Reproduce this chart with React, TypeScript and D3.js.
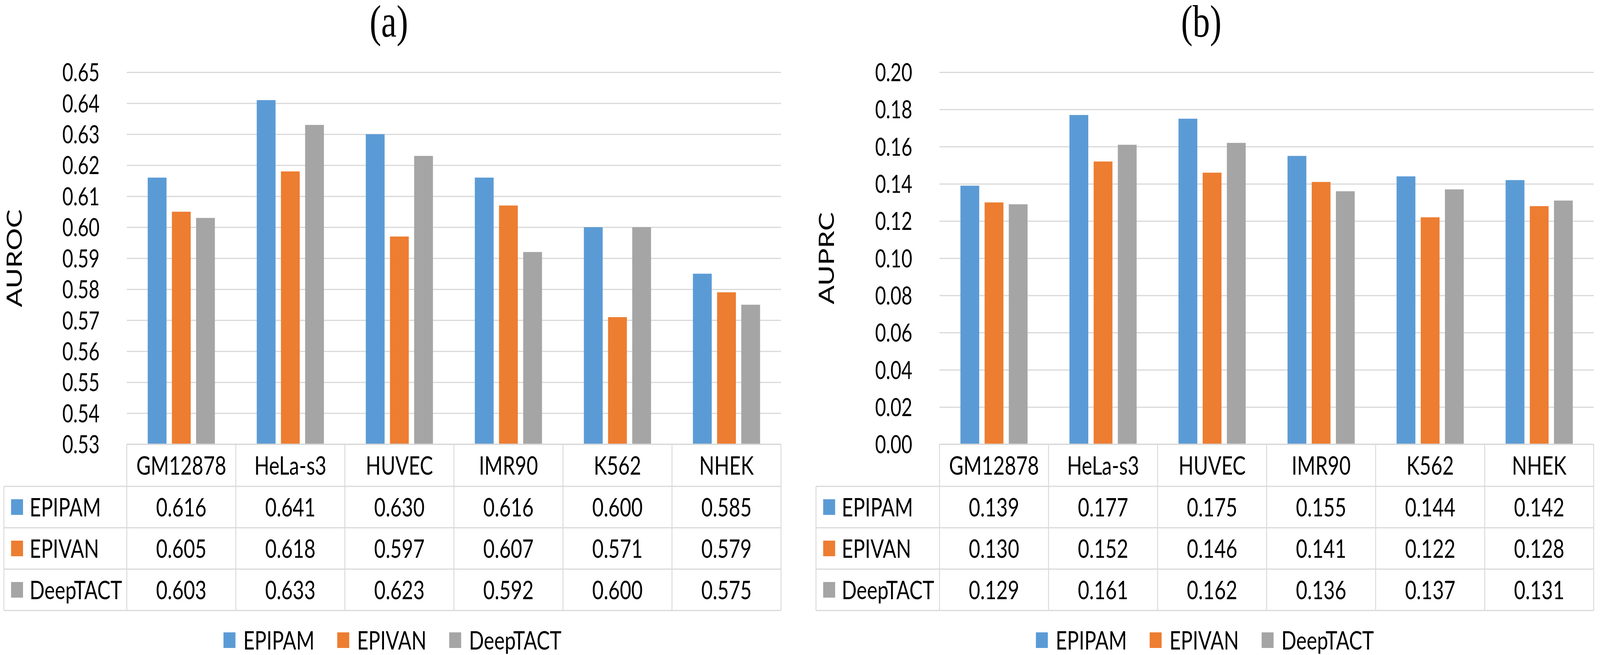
import React, { useEffect, useRef } from "react";
import * as d3 from "d3";

// cell lines and methods
const categories = ["GM12878", "HeLa-s3", "HUVEC", "IMR90", "K562", "NHEK"];
const seriesNames = ["EPIPAM", "EPIVAN", "DeepTACT"];
const seriesColors = ["#5B9BD5", "#ED7D31", "#A5A5A5"];

// panel (a) AUROC
const aurocEPIPAM = [0.616, 0.641, 0.63, 0.616, 0.6, 0.585];
const aurocEPIVAN = [0.605, 0.618, 0.597, 0.607, 0.571, 0.579];
const aurocDeepTACT = [0.603, 0.633, 0.623, 0.592, 0.6, 0.575];
const aurocTicks = [0.53, 0.54, 0.55, 0.56, 0.57, 0.58, 0.59, 0.6, 0.61, 0.62, 0.63, 0.64, 0.65];

// panel (b) AUPRC
const auprcEPIPAM = [0.139, 0.177, 0.175, 0.155, 0.144, 0.142];
const auprcEPIVAN = [0.13, 0.152, 0.146, 0.141, 0.122, 0.128];
const auprcDeepTACT = [0.129, 0.161, 0.162, 0.136, 0.137, 0.131];
const auprcTicks = [0, 0.02, 0.04, 0.06, 0.08, 0.1, 0.12, 0.14, 0.16, 0.18, 0.2];

const W = 5351;
const H = 1678;
const FONT = "Lato, 'Open Sans', sans-serif";
const LINE = "#D9D9D9";

interface Panel {
  title: string;
  yLabel: string;
  series: number[][];
  ticks: number[];
  tableLeft: number;
  plotLeft: number;
  plotRight: number;
}

const panels: Panel[] = [
  {
    title: "(a)",
    yLabel: "AUROC",
    series: [aurocEPIPAM, aurocEPIVAN, aurocDeepTACT],
    ticks: aurocTicks,
    tableLeft: 13,
    plotLeft: 424,
    plotRight: 2612,
  },
  {
    title: "(b)",
    yLabel: "AUPRC",
    series: [auprcEPIPAM, auprcEPIVAN, auprcDeepTACT],
    ticks: auprcTicks,
    tableLeft: 2729,
    plotLeft: 3142,
    plotRight: 5330,
  },
];

const plotTop = 185;
const plotBottom = 1138;
const headerH = 108;
const rowH = 106;
const legendY = 1640;

const App: React.FC = () => {
  const ref = useRef<SVGSVGElement>(null);

  useEffect(() => {
    if (!ref.current) return;
    document.body.style.margin = "0";
    const svg = d3.select(ref.current);
    svg.selectAll("*").remove();
    svg.append("rect").attr("width", W).attr("height", H).attr("fill", "#fff");

    panels.forEach((p) => {
      const g = svg.append("g");
      const x0 = d3.scaleBand().domain(categories).range([p.plotLeft, p.plotRight]);
      const bw = x0.bandwidth();
      const inset = bw * 0.192;
      const x1 = d3
        .scaleBand()
        .domain(seriesNames)
        .range([inset, bw - inset])
        .paddingInner(0.222);
      const y = d3
        .scaleLinear()
        .domain([p.ticks[0], p.ticks[p.ticks.length - 1]])
        .range([plotBottom, plotTop]);

      // gridlines
      const grid = g
        .append("g")
        .attr("transform", `translate(${p.plotLeft},0)`)
        .call(
          d3
            .axisLeft(y)
            .tickValues(p.ticks)
            .tickSize(-(p.plotRight - p.plotLeft))
            .tickFormat(() => "")
        );
      grid.select(".domain").remove();
      grid.selectAll(".tick line").attr("stroke", LINE).attr("stroke-width", 3);

      // tick labels
      const axis = g
        .append("g")
        .attr("transform", `translate(${p.plotLeft - 91},0)`)
        .call(
          d3
            .axisLeft(y)
            .tickValues(p.ticks)
            .tickSize(0)
            .tickPadding(0)
            .tickFormat((d) => d3.format(".2f")(d as number))
        );
      axis.select(".domain").remove();
      axis
        .selectAll(".tick text")
        .attr("font-family", FONT)
        .attr("font-size", 63)
        .attr("fill", "#000")
        .attr("dy", "0.36em");

      // y title
      g.append("text")
        .attr("transform", `translate(${p.tableLeft + 34},${(plotTop + plotBottom) / 2}) rotate(-90)`)
        .attr("text-anchor", "middle")
        .attr("dy", "0.36em")
        .attr("font-family", FONT)
        .attr("font-size", 72)
        .text(p.yLabel);

      // panel title
      g.append("text")
        .attr("x", (p.tableLeft + p.plotRight) / 2 - 12)
        .attr("y", 94)
        .attr("text-anchor", "middle")
        .attr("font-family", "'Liberation Serif', 'Times New Roman', serif")
        .attr("font-size", 116)
        .text(p.title);

      // bars
      p.series.forEach((vals, si) => {
        g.append("g")
          .selectAll("rect")
          .data(vals)
          .enter()
          .append("rect")
          .attr("x", (_, i) => (x0(categories[i]) ?? 0) + (x1(seriesNames[si]) ?? 0))
          .attr("y", (d) => y(d))
          .attr("width", x1.bandwidth())
          .attr("height", (d) => plotBottom - y(d))
          .attr("fill", seriesColors[si]);
      });

      // data table
      const t = g.append("g");
      const tableBottom = plotBottom + headerH + rowH * seriesNames.length;
      const hline = (yy: number, xa: number) =>
        t.append("line").attr("x1", xa).attr("x2", p.plotRight).attr("y1", yy).attr("y2", yy)
          .attr("stroke", LINE).attr("stroke-width", 3);
      const vline = (xx: number, ya: number) =>
        t.append("line").attr("x1", xx).attr("x2", xx).attr("y1", ya).attr("y2", tableBottom)
          .attr("stroke", LINE).attr("stroke-width", 3);

      hline(plotBottom, p.plotLeft);
      seriesNames.forEach((_, r) => hline(plotBottom + headerH + rowH * r, p.tableLeft));
      hline(tableBottom, p.tableLeft);
      vline(p.tableLeft, plotBottom + headerH);
      categories.forEach((c) => vline(x0(c) ?? 0, plotBottom));
      vline(p.plotRight, plotBottom);

      categories.forEach((c) => {
        t.append("text")
          .attr("x", (x0(c) ?? 0) + bw / 2)
          .attr("y", plotBottom + headerH / 2)
          .attr("dy", "0.36em")
          .attr("text-anchor", "middle")
          .attr("font-family", FONT)
          .attr("font-size", 66)
          .text(c);
      });

      seriesNames.forEach((s, r) => {
        const cy = plotBottom + headerH + rowH * r + rowH / 2;
        t.append("rect")
          .attr("x", p.tableLeft + 24)
          .attr("y", cy - 20)
          .attr("width", 40)
          .attr("height", 40)
          .attr("fill", seriesColors[r]);
        t.append("text")
          .attr("x", p.tableLeft + 86)
          .attr("y", cy)
          .attr("dy", "0.36em")
          .attr("font-family", FONT)
          .attr("font-size", 66)
          .text(s);
        p.series[r].forEach((v, i) => {
          t.append("text")
            .attr("x", (x0(categories[i]) ?? 0) + bw / 2)
            .attr("y", cy)
            .attr("dy", "0.36em")
            .attr("text-anchor", "middle")
            .attr("font-family", FONT)
            .attr("font-size", 66)
            .text(d3.format(".3f")(v));
        });
      });

      // bottom legend
      const lg = g.append("g");
      let cursor = 0;
      seriesNames.forEach((s, i) => {
        const item = lg.append("g").attr("transform", `translate(${cursor},0)`);
        item.append("rect").attr("x", 0).attr("y", legendY - 20).attr("width", 40).attr("height", 40)
          .attr("fill", seriesColors[i]);
        const txt = item.append("text")
          .attr("x", 66)
          .attr("y", legendY)
          .attr("dy", "0.36em")
          .attr("font-family", FONT)
          .attr("font-size", 66)
          .text(s);
        const tw = (txt.node() as SVGTextElement).getComputedTextLength();
        cursor += 66 + tw + (i < seriesNames.length - 1 ? 76 : 0);
      });
      const center = (p.tableLeft + p.plotRight) / 2;
      lg.attr("transform", `translate(${center - cursor / 2},0)`);
    });
  }, []);

  return (
    <div style={{ position: "absolute", left: 0, top: 0, width: "100vw", height: "100vh" }}>
      <svg
        ref={ref}
        viewBox={`0 0 ${W} ${H}`}
        preserveAspectRatio="none"
        style={{ display: "block", width: "100vw", height: "100vh" }}
      />
    </div>
  );
};

export default App;
